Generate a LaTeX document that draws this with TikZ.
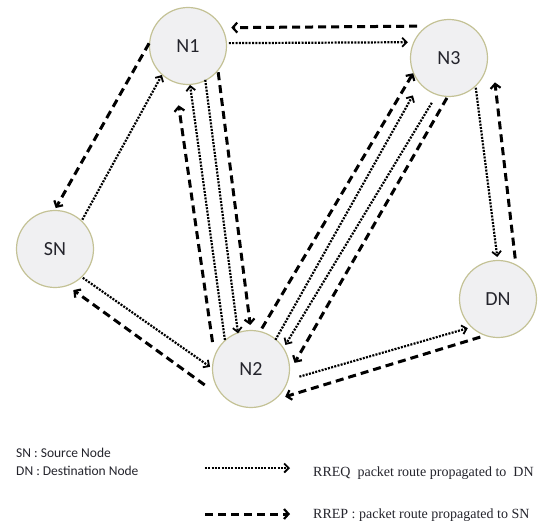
\documentclass[tikz,border=0pt]{standalone}
\usepackage{fontspec}
\setmainfont{Liberation Serif}
\newfontfamily\calfont{Carlito}
\usetikzlibrary{arrows.meta,calc}
\definecolor{peerfill}{RGB}{240,240,242}
\definecolor{peerline}{RGB}{196,194,150}
\definecolor{inkgray}{RGB}{36,36,44}
\tikzset{
	peer/.style={circle,draw=peerline,line width=1.2pt,fill=peerfill,minimum size=77pt,inner sep=0pt,
		font=\calfont\fontsize{20}{24}\selectfont,text=inkgray},
	rreq/.style={line width=2.2pt,dash pattern=on 2pt off 1.3pt,
		-{Straight Barb[length=4.5pt,width=9pt,line width=1.8pt]}},
	rrep/.style={line width=3pt,dash pattern=on 8pt off 5pt,
		-{Straight Barb[length=4.5pt,width=10pt,line width=2.2pt]}},
	keytext/.style={anchor=west,inner sep=0pt,text=inkgray}
}
\begin{document}
\begin{tikzpicture}[x=1pt,y=1pt]
	\useasboundingbox (0,0) rectangle (545,523);
	\node[peer] (N1) at (188,477) {N1};
	\node[peer] (N3) at (449,465) {N3};
	\node[peer] (SN) at (55,274) {SN};
	\node[peer] (DN) at (498,224) {DN};
	\node[peer] (N2) at (251,154) {N2};
	\draw[rrep] ($(N3)+(135:45)$) -- ($(N1)+(23:47)$);
	\draw[rreq] ($(N1)+(4:41)$) -- ($(N3)+(159:44)$);
	\draw[rrep] ($(N1)+(176:39)$) -- ($(SN)+(89:41)$);
	\draw[rreq] ($(SN)+(47:40)$) -- ($(N1)+(228:39)$);
	\draw[rrep] ($(N2)+(145:47)$) -- ($(N1)+(261:60)$);
	\draw[rreq] ($(N2)+(132:39)$) -- ($(N1)+(273:39)$);
	\draw[rreq] ($(N1)+(297:38)$) -- ($(N2)+(110:38)$);
	\draw[rrep] ($(N1)+(319:40)$) -- ($(N2)+(91:44)$);
	\draw[rrep] ($(N2)+(75:42)$) -- ($(N3)+(203:39)$);
	\draw[rreq] ($(N2)+(50:38)$) -- ($(N3)+(226:52)$);
	\draw[rreq] ($(N3)+(249:48)$) -- ($(N2)+(35:42)$);
	\draw[rrep] ($(N3)+(267:40)$) -- ($(N2)+(8:44)$);
	\draw[rreq] ($(N3)+(312:40)$) -- ($(DN)+(91:42)$);
	\draw[rrep] ($(DN)+(67:44)$) -- ($(N3)+(332:52)$);
	\draw[rreq] ($(N2)+(351:49)$) -- ($(DN)+(224:42)$);
	\draw[rrep] ($(DN)+(245:42)$) -- ($(N2)+(321:44)$);
	\draw[rreq] ($(SN)+(314:40)$) -- ($(N2)+(177:41)$);
	\draw[rrep] ($(N2)+(199:49)$) -- ($(SN)+(294:45)$);
	% legend
	\node[keytext,font=\calfont\fontsize{13.5}{16}\selectfont] (keySN) at (16,70) {SN : Source Node};
	\node[keytext,font=\calfont\fontsize{13.5}{16}\selectfont] (keyDN) at (16,52) {DN : Destination Node};
	\coordinate (qa) at (205,55);
	\coordinate (qb) at (290,55);
	\draw[rreq] (qa) -- (qb);
	\node[keytext,font=\fontsize{14}{16}\selectfont] (keyRREQ) at (313,50) {RREQ\ \ packet route propagated to\ \ DN};
	\coordinate (pa) at (205,9);
	\coordinate (pb) at (290,9);
	\draw[rrep] (pa) -- (pb);
	\node[keytext,font=\fontsize{14}{16}\selectfont] (keyRREP) at (313,8) {RREP : packet route propagated to SN};
\end{tikzpicture}
\end{document}
